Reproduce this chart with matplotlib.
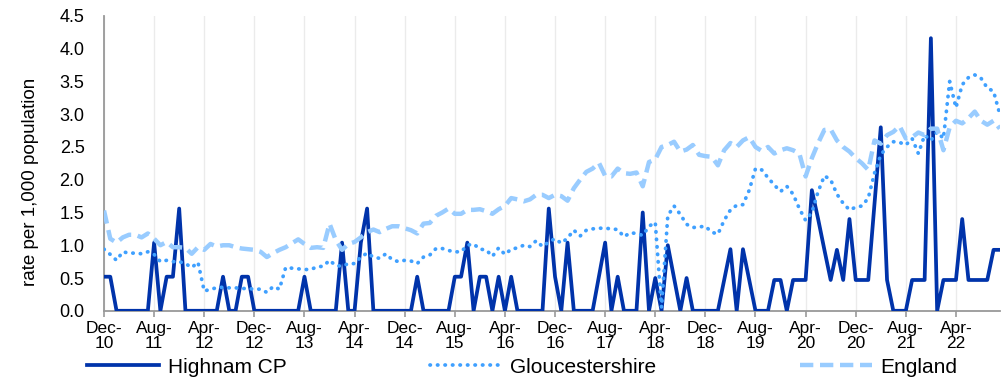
import numpy as np
import pandas as pd
import matplotlib
matplotlib.use("Agg")
import matplotlib.pyplot as plt

plt.rcParams['font.family'] = ['Liberation Sans', 'DejaVu Sans']

# monthly rates per 1,000 population, Dec-10 .. Nov-22
months = pd.date_range("2010-12-01", periods=144, freq="MS")

highnam = [
    0.52, 0.52, 0, 0, 0, 0, 0, 0, 1.04, 0,
    0.52, 0.52, 1.56, 0, 0, 0, 0, 0, 0, 0.52,
    0, 0, 0.52, 0.52, 0, 0, 0, 0, 0, 0,
    0, 0, 0.52, 0, 0, 0, 0, 0, 1.04, 0,
    0, 1.04, 1.56, 0, 0, 0, 0, 0, 0, 0,
    0.52, 0, 0, 0, 0, 0, 0.52, 0.52, 1.04, 0,
    0.52, 0.52, 0, 0.52, 0, 0.52, 0, 0, 0, 0,
    0, 1.56, 0.52, 0, 1.04, 0, 0, 0, 0, 0.52,
    1.04, 0, 0.52, 0, 0, 0, 1.5, 0, 0.5, 0,
    1.0, 0.5, 0, 0.5, 0, 0, 0, 0, 0, 0.47,
    0.94, 0, 0.94, 0.47, 0, 0, 0, 0.47, 0.47, 0,
    0.47, 0.47, 0.47, 1.84, 1.4, 0.93, 0.47, 0.93, 0.47, 1.4,
    0.47, 0.47, 0.47, 1.63, 2.8, 0.47, 0, 0, 0, 0.47,
    0.47, 0.47, 4.16, 0, 0.47, 0.47, 0.47, 1.4, 0.47, 0.47,
    0.47, 0.47, 0.93, 0.93]

gloucestershire = [
    0.94, 0.86, 0.77, 0.90, 0.88, 0.88, 0.87, 0.90, 0.86, 0.75,
    0.77, 0.75, 0.75, 0.72, 0.66, 0.74, 0.30, 0.33, 0.35, 0.36,
    0.35, 0.35, 0.34, 0.34, 0.33, 0.33, 0.28, 0.37, 0.33, 0.66,
    0.65, 0.64, 0.63, 0.63, 0.67, 0.68, 0.77, 0.69, 0.68, 0.72,
    0.72, 0.82, 0.88, 0.82, 0.80, 0.87, 0.78, 0.75, 0.77, 0.76,
    0.72, 0.82, 0.85, 0.95, 0.95, 0.92, 0.90, 0.90, 1.00, 1.02,
    0.94, 0.93, 0.83, 0.96, 0.86, 0.94, 0.96, 1.00, 0.98, 1.07,
    0.98, 1.05, 1.10, 1.03, 1.11, 1.23, 1.14, 1.23, 1.25, 1.26,
    1.26, 1.25, 1.24, 1.13, 1.19, 1.18, 1.15, 1.29, 1.35, 0.05,
    1.45, 1.60, 1.47, 1.32, 1.27, 1.28, 1.29, 1.20, 1.17, 1.38,
    1.54, 1.61, 1.62, 1.84, 2.17, 2.15, 2.03, 1.92, 1.82, 1.90,
    1.78, 1.56, 1.38, 1.50, 1.82, 2.06, 2.00, 1.78, 1.64, 1.54,
    1.58, 1.60, 1.72, 2.10, 2.38, 2.50, 2.58, 2.57, 2.53, 2.63,
    2.40, 2.68, 2.60, 2.73, 2.63, 3.50, 3.10, 3.45, 3.56, 3.60,
    3.55, 3.40, 3.35, 3.00]

england = [
    1.53, 1.10, 1.04, 1.12, 1.16, 1.16, 1.12, 1.18, 1.10, 1.00,
    1.05, 0.97, 0.97, 0.96, 0.87, 0.97, 0.93, 1.02, 0.98, 1.00,
    1.00, 0.97, 0.95, 0.94, 0.93, 0.90, 0.82, 0.88, 0.93, 0.97,
    1.03, 1.09, 1.02, 0.96, 0.97, 0.96, 1.33, 1.08, 0.93, 1.02,
    1.05, 1.12, 1.20, 1.24, 1.20, 1.25, 1.29, 1.29, 1.26, 1.23,
    1.18, 1.33, 1.34, 1.45, 1.50, 1.56, 1.48, 1.48, 1.54, 1.54,
    1.55, 1.52, 1.48, 1.55, 1.60, 1.72, 1.70, 1.67, 1.70, 1.77,
    1.77, 1.72, 1.77, 1.75, 1.68, 1.87, 2.00, 2.12, 2.17, 2.26,
    2.06, 2.05, 2.17, 2.10, 2.09, 2.11, 1.90, 2.27, 2.31, 2.50,
    2.53, 2.58, 2.43, 2.46, 2.53, 2.38, 2.36, 2.35, 2.22, 2.45,
    2.56, 2.50, 2.60, 2.65, 2.50, 2.44, 2.50, 2.40, 2.45, 2.48,
    2.45, 2.40, 2.05, 2.33, 2.56, 2.76, 2.77, 2.60, 2.50, 2.43,
    2.33, 2.25, 2.15, 2.60, 2.55, 2.68, 2.73, 2.82, 2.63, 2.65,
    2.72, 2.68, 2.78, 2.78, 2.45, 2.80, 2.90, 2.86, 2.94, 3.04,
    2.90, 2.84, 2.90, 2.78]

x = np.arange(len(months))

fig = plt.figure(figsize=(10.02, 3.79), dpi=100)
ax = fig.add_axes([0.1038, 0.180, 0.894, 0.778])

ax.plot(x, highnam, color='#0033AA', lw=2.7, label='Highnam CP', zorder=3)
ax.plot(x, gloucestershire, color='#3FA0FF', lw=2.7, linestyle=(0, (0.1, 1.9)),
        dash_capstyle='round', label='Gloucestershire', zorder=4)
ax.plot(x, england, color='#99CCFF', lw=3.2, linestyle=(0, (3, 1.5)),
        label='England', zorder=5)

ax.set_xlim(0, len(months) - 1)
ax.set_ylim(0, 4.5)
ax.set_yticks(np.arange(0, 4.51, 0.5))
ax.set_yticklabels([f"{v:.1f}" for v in np.arange(0, 4.51, 0.5)], fontsize=13)

tick_pos = x[::8]
tick_labels = [m.strftime("%b-\n%y") for m in months[::8]]
ax.set_xticks(tick_pos)
ax.set_xticklabels(tick_labels, fontsize=12.5, linespacing=1.0)
ax.xaxis.grid(True, color='#EBEBEB', lw=1)
ax.set_axisbelow(True)

for s in ['top', 'right']:
    ax.spines[s].set_visible(False)
for s in ['left', 'bottom']:
    ax.spines[s].set_color('#999999')
    ax.spines[s].set_linewidth(1.3)
ax.tick_params(axis='x', colors='#999999', length=4, width=1.2, labelcolor='black', pad=3)
ax.tick_params(axis='y', colors='#999999', length=0, labelcolor='black', pad=14)

ax.set_ylabel("rate per 1,000 population", fontsize=13.5)
ax.yaxis.set_label_coords(-0.073, 0.437)

fig.legend(loc='lower left', bbox_to_anchor=(0.083, -0.005), ncol=3, frameon=False,
           fontsize=15, handlelength=3.45, handletextpad=0.4, columnspacing=6.9,
           borderaxespad=0, borderpad=0.2)

fig.savefig("out.png", dpi=100)
